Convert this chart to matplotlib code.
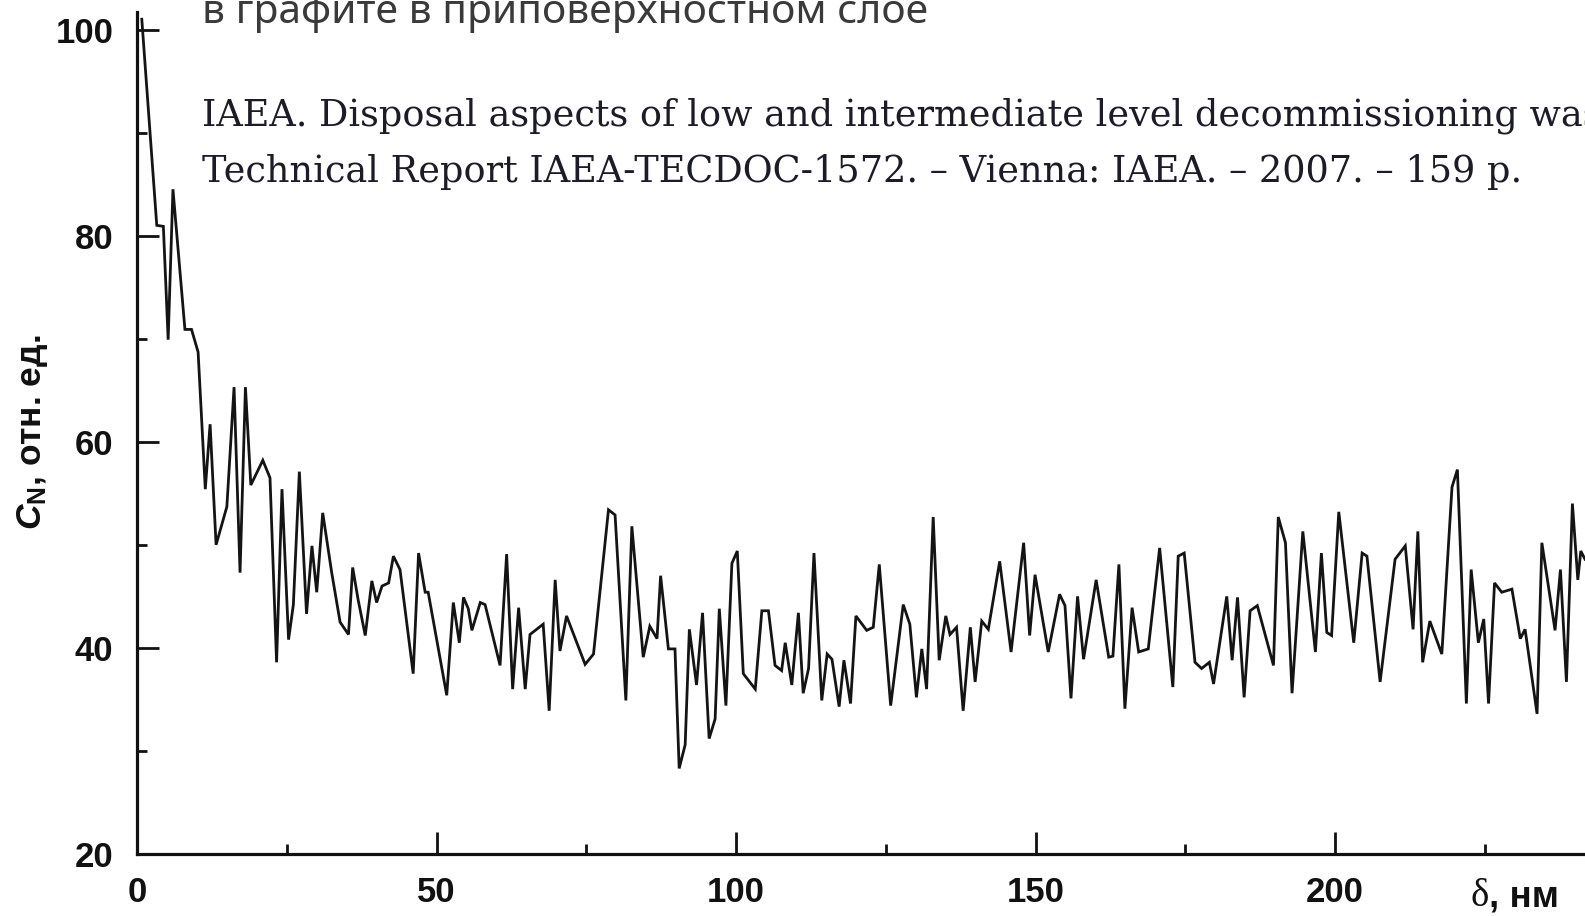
import matplotlib
matplotlib.use("Agg")
import matplotlib.pyplot as plt
from matplotlib.ticker import FixedLocator

# ---- data ----
depth_nm = [0.8, 3.3, 4.4, 5.2, 6.0, 8.0, 9.1, 10.2, 11.4, 12.2,
            13.2, 15.0, 16.2, 17.2, 18.1, 19.0, 21.0, 22.2, 23.3, 24.2,
            25.3, 26.1, 27.1, 28.3, 29.2, 30.0, 31.0, 32.5, 33.9, 35.3,
            36.0, 36.9, 38.1, 39.2, 40.0, 40.9, 42.0, 42.8, 43.9, 46.1,
            47.0, 48.1, 48.6, 51.7, 52.8, 53.8, 54.5, 55.3, 55.9, 57.3,
            58.1, 60.6, 61.7, 62.7, 63.7, 64.8, 65.6, 67.8, 68.8, 69.8,
            70.6, 71.7, 74.8, 76.2, 78.7, 79.8, 81.6, 82.6, 84.5, 85.6,
            86.8, 87.4, 88.7, 89.8, 90.5, 91.5, 92.2, 93.4, 94.4, 95.5,
            96.5, 97.2, 98.3, 99.3, 100.2, 101.2, 103.2, 104.3, 105.4, 106.5,
            107.6, 108.2, 109.3, 110.4, 111.2, 112.1, 113.0, 114.3, 115.2, 116.0,
            117.2, 118.0, 119.1, 120.0, 121.8, 122.9, 123.9, 125.8, 127.9, 129.0,
            130.1, 131.0, 131.8, 132.9, 133.9, 135.0, 135.7, 136.8, 137.9, 139.1,
            139.9, 141.0, 142.1, 144.0, 145.9, 148.0, 149.0, 149.9, 152.1, 154.0,
            154.9, 155.9, 157.0, 158.0, 160.1, 162.2, 162.9, 163.9, 164.9, 166.1,
            167.2, 168.8, 170.7, 172.9, 173.8, 174.8, 176.6, 177.7, 179.0, 179.7,
            181.9, 182.8, 183.7, 184.8, 185.8, 187.0, 189.7, 190.5, 191.7, 192.8,
            194.6, 196.7, 197.7, 198.6, 199.4, 200.6, 203.1, 204.5, 205.3, 207.5,
            210.0, 211.7, 213.0, 213.8, 214.6, 215.8, 217.8, 219.5, 220.4, 221.9,
            222.7, 223.9, 224.8, 225.6, 226.6, 227.8, 229.5, 230.9, 231.7, 233.7,
            234.5, 236.7, 237.6, 238.6, 239.6, 240.5, 241.0, 241.7]

conc_N = [101.0, 81.0, 80.9, 69.9, 84.5, 70.9, 70.9, 68.7, 55.4, 61.7,
          50.0, 53.7, 65.3, 47.3, 65.3, 55.8, 58.2, 56.5, 38.6, 55.4,
          40.8, 44.2, 57.1, 43.3, 49.9, 45.4, 53.1, 47.3, 42.5, 41.3,
          47.8, 44.7, 41.2, 46.5, 44.4, 46.0, 46.3, 48.9, 47.6, 37.5,
          49.2, 45.4, 45.4, 35.4, 44.4, 40.5, 44.9, 43.8, 41.7, 44.4,
          44.2, 38.3, 49.1, 36.0, 43.9, 36.0, 41.3, 42.3, 33.9, 46.6,
          39.7, 43.1, 38.4, 39.4, 53.4, 52.9, 34.9, 51.8, 39.1, 42.1,
          40.9, 47.0, 39.9, 39.9, 28.3, 30.6, 41.8, 36.4, 43.4, 31.2,
          33.1, 43.8, 34.4, 48.2, 49.4, 37.5, 36.0, 43.6, 43.6, 38.3,
          37.8, 40.5, 36.4, 43.4, 35.6, 38.0, 49.2, 34.9, 39.4, 38.9,
          34.3, 38.8, 34.6, 43.1, 41.7, 42.0, 48.1, 34.4, 44.2, 42.3,
          35.2, 39.9, 36.0, 52.7, 38.8, 43.1, 41.3, 42.0, 33.9, 42.0,
          36.7, 42.6, 41.8, 48.4, 39.6, 50.2, 41.2, 47.1, 39.6, 45.2,
          44.1, 35.1, 45.0, 38.9, 46.6, 39.1, 39.2, 48.1, 34.1, 43.9,
          39.6, 39.9, 49.7, 36.2, 48.9, 49.2, 38.6, 38.0, 38.6, 36.5,
          45.0, 38.8, 44.9, 35.2, 43.6, 44.1, 38.3, 52.7, 50.2, 35.6,
          51.3, 39.6, 49.2, 41.5, 41.2, 53.2, 40.5, 49.2, 48.9, 36.7,
          48.6, 49.9, 41.8, 51.3, 38.6, 42.6, 39.4, 55.6, 57.3, 34.6,
          47.6, 40.5, 42.8, 34.6, 46.3, 45.4, 45.7, 40.9, 41.8, 33.6,
          50.2, 41.7, 47.6, 36.7, 54.0, 46.6, 49.4, 48.6]

x_major = [0, 50, 100, 150, 200]
x_minor = [25, 75, 125, 175, 225]
y_major = [20, 40, 60, 80, 100]
y_minor = [30, 50, 70, 90]
x_tick_labels = ["0", "50", "100", "150", "200"]
y_tick_labels = ["20", "40", "60", "80", "100"]

ylabel_text = r"$C_{\mathrm{N}}$, отн. ед."
xlabel_delta = "δ"
xlabel_unit = ", нм"
overlay_ru = "в графите в приповерхностном слое"
overlay_ref1 = "IAEA. Disposal aspects of low and intermediate level decommissioning waste."
overlay_ref2 = "Technical Report IAEA-TECDOC-1572. – Vienna: IAEA. – 2007. – 159 p."

# ---- style ----
plt.rcParams['font.family'] = ['Liberation Sans', 'DejaVu Sans']
plt.rcParams['mathtext.fontset'] = 'custom'
plt.rcParams['mathtext.it'] = 'Liberation Sans:italic:bold'
plt.rcParams['mathtext.rm'] = 'Liberation Sans:bold'
plt.rcParams['mathtext.bf'] = 'Liberation Sans:bold'

W, H = 1585, 916
fig = plt.figure(figsize=(W / 100, H / 100), dpi=100)
fig.patch.set_facecolor('white')

left = 137 / W
bottom = (H - 854) / H
top_px = 12
ax = fig.add_axes([left, bottom, 1.0 - left, (854 - top_px) / H])

ax.plot(depth_nm, conc_N, color='#141414', lw=2.0, solid_joinstyle='miter')

ax.set_xlim(0, 241.7)
ax.set_ylim(20, 101.7)

for s in ['top', 'right']:
    ax.spines[s].set_visible(False)
for s in ['left', 'bottom']:
    ax.spines[s].set_linewidth(2.3)
    ax.spines[s].set_color('#111111')

ax.xaxis.set_major_locator(FixedLocator(x_major))
ax.xaxis.set_minor_locator(FixedLocator(x_minor))
ax.yaxis.set_major_locator(FixedLocator(y_major))
ax.yaxis.set_minor_locator(FixedLocator(y_minor))
ax.set_xticklabels(x_tick_labels)
ax.set_yticklabels(y_tick_labels)

ax.tick_params(axis='both', which='major', direction='in', length=16, width=2.0,
               colors='#111111', labelsize=25)
ax.tick_params(axis='both', which='minor', direction='in', length=7.5, width=2.0,
               colors='#111111')
ax.tick_params(axis='y', which='major', pad=17)
ax.tick_params(axis='x', which='major', pad=16)
for lab in ax.get_xticklabels() + ax.get_yticklabels():
    lab.set_fontweight('bold')
    lab.set_color('#111111')

# axis labels
fig.text(33 / W, 1 - 432 / H, ylabel_text, rotation=90, ha='center', va='center',
         fontsize=25.5, fontweight='bold', color='#111111')
fig.text(1470 / W, 1 - 878 / H, xlabel_delta, ha='left', va='top',
         fontsize=28, family='Liberation Serif', color='#111111')
fig.text(1489 / W, 1 - 880 / H, xlabel_unit, ha='left', va='top',
         fontsize=26.5, fontweight='bold', color='#111111')

# overlaid text from the source page
fig.text(202 / W, 1 - 23 / H, overlay_ru, ha='left', va='baseline',
         fontsize=29.3, family='Noto Sans', color='#3a3a3a')
fig.text(202 / W, 1 - 125 / H, overlay_ref1, ha='left', va='baseline',
         fontsize=26.4, family='DejaVu Serif', color='#1c1c28')
fig.text(202 / W, 1 - 182 / H, overlay_ref2, ha='left', va='baseline',
         fontsize=26.4, family='DejaVu Serif', color='#1c1c28')

fig.savefig('out.png', dpi=100, facecolor='white')
